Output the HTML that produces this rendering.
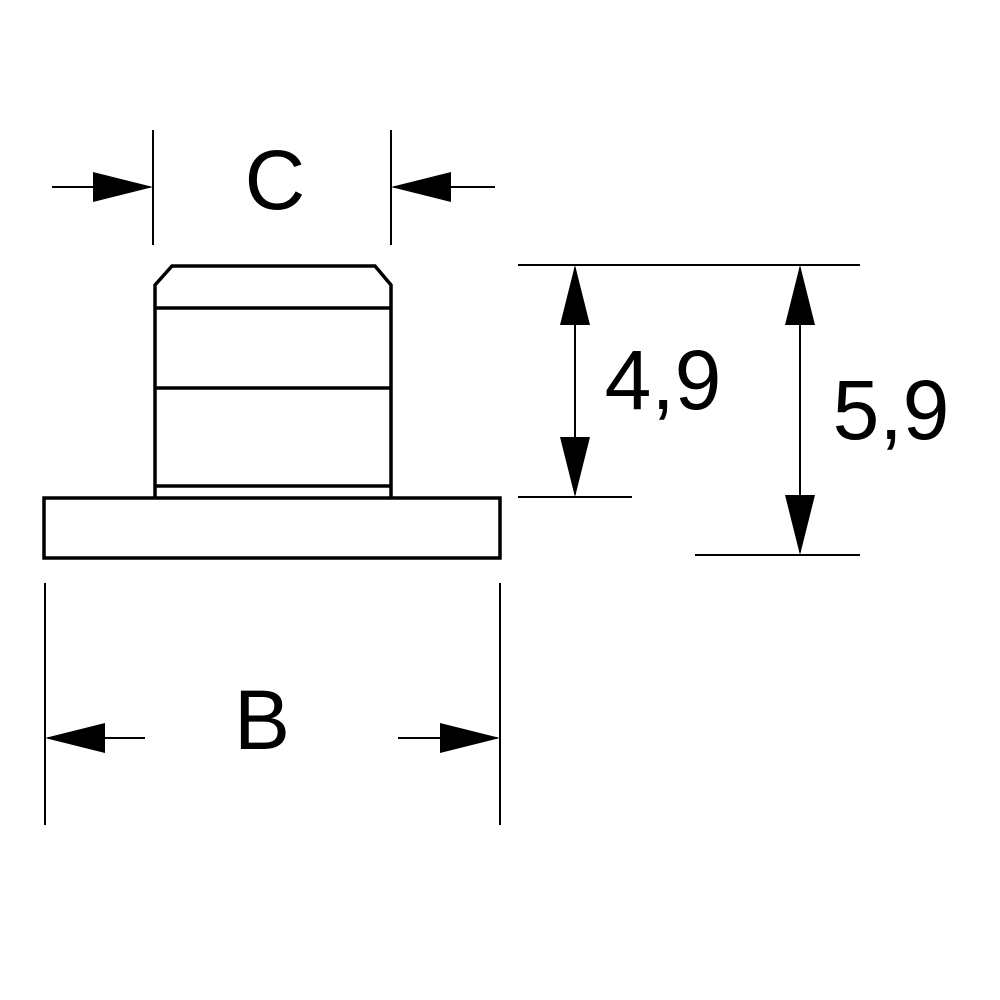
<!DOCTYPE html>
<html><head><meta charset="utf-8"><style>html,body{margin:0;padding:0;background:#fff}svg{display:block}</style></head>
<body>
<svg width="1000" height="1000" viewBox="0 0 1000 1000" xmlns="http://www.w3.org/2000/svg">
<g fill="none" stroke="#000" stroke-width="3.5">
<rect x="44" y="498" width="456" height="60"/>
<path d="M155 497 V285 L172 266 H375 L391 285 V497"/>
<line x1="155" y1="308" x2="391" y2="308"/>
<line x1="155" y1="388" x2="391" y2="388"/>
<line x1="155" y1="486" x2="391" y2="486"/>
</g>
<g stroke="#000" stroke-width="2" fill="none">
<line x1="153" y1="130" x2="153" y2="245"/>
<line x1="391" y1="130" x2="391" y2="245"/>
<line x1="52" y1="187" x2="150" y2="187"/>
<line x1="394" y1="187" x2="495" y2="187"/>
<line x1="518" y1="265" x2="860" y2="265"/>
<line x1="518" y1="497" x2="632" y2="497"/>
<line x1="695" y1="555" x2="860" y2="555"/>
<line x1="575" y1="268" x2="575" y2="494"/>
<line x1="800" y1="268" x2="800" y2="552"/>
<line x1="45" y1="583" x2="45" y2="825"/>
<line x1="500" y1="583" x2="500" y2="825"/>
<line x1="48" y1="738" x2="145" y2="738"/>
<line x1="398" y1="738" x2="497" y2="738"/>
</g>
<g fill="#000">
<polygon points="153,187 93,172 93,202"/>
<polygon points="391,187 451,172 451,202"/>
<polygon points="575,265 560,325 590,325"/>
<polygon points="575,497 560,437 590,437"/>
<polygon points="800,265 785,325 815,325"/>
<polygon points="800,555 785,495 815,495"/>
<polygon points="45,738 105,723 105,753"/>
<polygon points="500,738 440,723 440,753"/>
</g>
<g font-family="Liberation Sans, sans-serif" font-size="84" fill="#000">
<text x="275" y="209" text-anchor="middle">C</text>
<text x="262" y="749" text-anchor="middle">B</text>
<text x="663" y="409" text-anchor="middle">4,9</text>
<text x="891" y="439" text-anchor="middle">5,9</text>
</g>
</svg>
</body></html>
